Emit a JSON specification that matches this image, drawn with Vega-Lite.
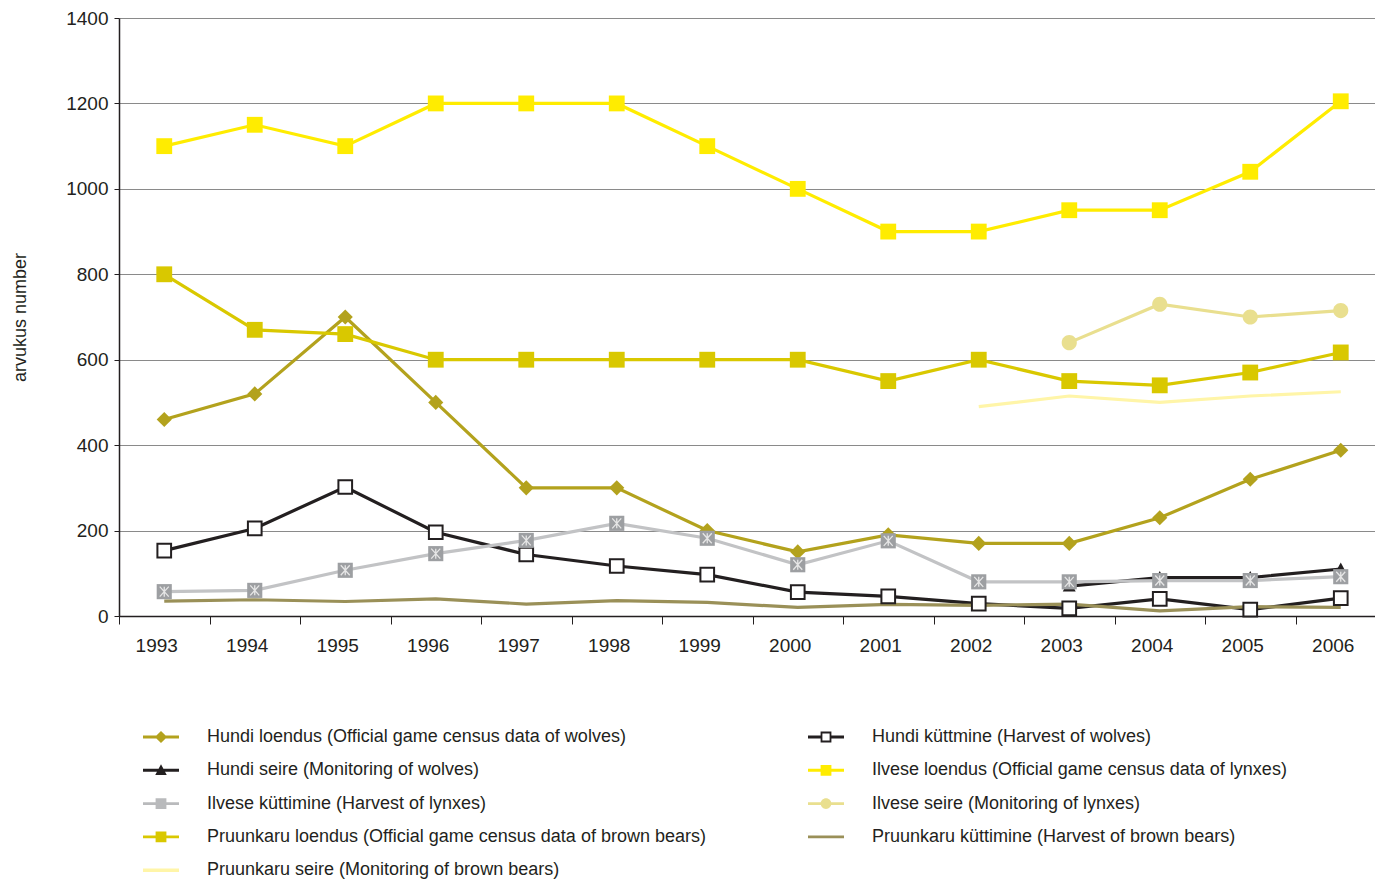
{
  "$schema": "https://vega.github.io/schema/vega-lite/v6.json",
  "autosize": {"type": "none"},
  "padding": {"left": 119, "top": 18, "right": 0, "bottom": 265},
  "width": 1267,
  "height": 598,
  "background": "white",
  "config": {
    "font": "Liberation Sans",
    "view": {"stroke": null}
  },
  "data": {
    "values": [
      {"year": 1993, "series": "Hundi loendus (Official game census data of wolves)", "value": 460},
      {"year": 1994, "series": "Hundi loendus (Official game census data of wolves)", "value": 520},
      {"year": 1995, "series": "Hundi loendus (Official game census data of wolves)", "value": 700},
      {"year": 1996, "series": "Hundi loendus (Official game census data of wolves)", "value": 500},
      {"year": 1997, "series": "Hundi loendus (Official game census data of wolves)", "value": 300},
      {"year": 1998, "series": "Hundi loendus (Official game census data of wolves)", "value": 300},
      {"year": 1999, "series": "Hundi loendus (Official game census data of wolves)", "value": 200},
      {"year": 2000, "series": "Hundi loendus (Official game census data of wolves)", "value": 150},
      {"year": 2001, "series": "Hundi loendus (Official game census data of wolves)", "value": 190},
      {"year": 2002, "series": "Hundi loendus (Official game census data of wolves)", "value": 170},
      {"year": 2003, "series": "Hundi loendus (Official game census data of wolves)", "value": 170},
      {"year": 2004, "series": "Hundi loendus (Official game census data of wolves)", "value": 230},
      {"year": 2005, "series": "Hundi loendus (Official game census data of wolves)", "value": 320},
      {"year": 2006, "series": "Hundi loendus (Official game census data of wolves)", "value": 388},

      {"year": 1993, "series": "Hundi küttmine (Harvest of wolves)", "value": 153},
      {"year": 1994, "series": "Hundi küttmine (Harvest of wolves)", "value": 205},
      {"year": 1995, "series": "Hundi küttmine (Harvest of wolves)", "value": 302},
      {"year": 1996, "series": "Hundi küttmine (Harvest of wolves)", "value": 196},
      {"year": 1997, "series": "Hundi küttmine (Harvest of wolves)", "value": 144},
      {"year": 1998, "series": "Hundi küttmine (Harvest of wolves)", "value": 117},
      {"year": 1999, "series": "Hundi küttmine (Harvest of wolves)", "value": 97},
      {"year": 2000, "series": "Hundi küttmine (Harvest of wolves)", "value": 56},
      {"year": 2001, "series": "Hundi küttmine (Harvest of wolves)", "value": 46},
      {"year": 2002, "series": "Hundi küttmine (Harvest of wolves)", "value": 29},
      {"year": 2003, "series": "Hundi küttmine (Harvest of wolves)", "value": 18},
      {"year": 2004, "series": "Hundi küttmine (Harvest of wolves)", "value": 40},
      {"year": 2005, "series": "Hundi küttmine (Harvest of wolves)", "value": 15},
      {"year": 2006, "series": "Hundi küttmine (Harvest of wolves)", "value": 42},

      {"year": 2003, "series": "Hundi seire (Monitoring of wolves)", "value": 70},
      {"year": 2004, "series": "Hundi seire (Monitoring of wolves)", "value": 90},
      {"year": 2005, "series": "Hundi seire (Monitoring of wolves)", "value": 90},
      {"year": 2006, "series": "Hundi seire (Monitoring of wolves)", "value": 110},

      {"year": 1993, "series": "Ilvese loendus (Official game census data of lynxes)", "value": 1100},
      {"year": 1994, "series": "Ilvese loendus (Official game census data of lynxes)", "value": 1150},
      {"year": 1995, "series": "Ilvese loendus (Official game census data of lynxes)", "value": 1100},
      {"year": 1996, "series": "Ilvese loendus (Official game census data of lynxes)", "value": 1200},
      {"year": 1997, "series": "Ilvese loendus (Official game census data of lynxes)", "value": 1200},
      {"year": 1998, "series": "Ilvese loendus (Official game census data of lynxes)", "value": 1200},
      {"year": 1999, "series": "Ilvese loendus (Official game census data of lynxes)", "value": 1100},
      {"year": 2000, "series": "Ilvese loendus (Official game census data of lynxes)", "value": 1000},
      {"year": 2001, "series": "Ilvese loendus (Official game census data of lynxes)", "value": 900},
      {"year": 2002, "series": "Ilvese loendus (Official game census data of lynxes)", "value": 900},
      {"year": 2003, "series": "Ilvese loendus (Official game census data of lynxes)", "value": 950},
      {"year": 2004, "series": "Ilvese loendus (Official game census data of lynxes)", "value": 950},
      {"year": 2005, "series": "Ilvese loendus (Official game census data of lynxes)", "value": 1040},
      {"year": 2006, "series": "Ilvese loendus (Official game census data of lynxes)", "value": 1205},

      {"year": 1993, "series": "Ilvese küttimine (Harvest of lynxes)", "value": 57},
      {"year": 1994, "series": "Ilvese küttimine (Harvest of lynxes)", "value": 60},
      {"year": 1995, "series": "Ilvese küttimine (Harvest of lynxes)", "value": 107},
      {"year": 1996, "series": "Ilvese küttimine (Harvest of lynxes)", "value": 146},
      {"year": 1997, "series": "Ilvese küttimine (Harvest of lynxes)", "value": 177},
      {"year": 1998, "series": "Ilvese küttimine (Harvest of lynxes)", "value": 217},
      {"year": 1999, "series": "Ilvese küttimine (Harvest of lynxes)", "value": 182},
      {"year": 2000, "series": "Ilvese küttimine (Harvest of lynxes)", "value": 120},
      {"year": 2001, "series": "Ilvese küttimine (Harvest of lynxes)", "value": 176},
      {"year": 2002, "series": "Ilvese küttimine (Harvest of lynxes)", "value": 80},
      {"year": 2003, "series": "Ilvese küttimine (Harvest of lynxes)", "value": 80},
      {"year": 2004, "series": "Ilvese küttimine (Harvest of lynxes)", "value": 83},
      {"year": 2005, "series": "Ilvese küttimine (Harvest of lynxes)", "value": 83},
      {"year": 2006, "series": "Ilvese küttimine (Harvest of lynxes)", "value": 92},

      {"year": 2003, "series": "Ilvese seire (Monitoring of lynxes)", "value": 640},
      {"year": 2004, "series": "Ilvese seire (Monitoring of lynxes)", "value": 730},
      {"year": 2005, "series": "Ilvese seire (Monitoring of lynxes)", "value": 700},
      {"year": 2006, "series": "Ilvese seire (Monitoring of lynxes)", "value": 715},

      {"year": 1993, "series": "Pruunkaru loendus (Official game census data of brown bears)", "value": 800},
      {"year": 1994, "series": "Pruunkaru loendus (Official game census data of brown bears)", "value": 670},
      {"year": 1995, "series": "Pruunkaru loendus (Official game census data of brown bears)", "value": 660},
      {"year": 1996, "series": "Pruunkaru loendus (Official game census data of brown bears)", "value": 600},
      {"year": 1997, "series": "Pruunkaru loendus (Official game census data of brown bears)", "value": 600},
      {"year": 1998, "series": "Pruunkaru loendus (Official game census data of brown bears)", "value": 600},
      {"year": 1999, "series": "Pruunkaru loendus (Official game census data of brown bears)", "value": 600},
      {"year": 2000, "series": "Pruunkaru loendus (Official game census data of brown bears)", "value": 600},
      {"year": 2001, "series": "Pruunkaru loendus (Official game census data of brown bears)", "value": 550},
      {"year": 2002, "series": "Pruunkaru loendus (Official game census data of brown bears)", "value": 600},
      {"year": 2003, "series": "Pruunkaru loendus (Official game census data of brown bears)", "value": 550},
      {"year": 2004, "series": "Pruunkaru loendus (Official game census data of brown bears)", "value": 540},
      {"year": 2005, "series": "Pruunkaru loendus (Official game census data of brown bears)", "value": 570},
      {"year": 2006, "series": "Pruunkaru loendus (Official game census data of brown bears)", "value": 617},

      {"year": 1993, "series": "Pruunkaru küttimine (Harvest of brown bears)", "value": 35},
      {"year": 1994, "series": "Pruunkaru küttimine (Harvest of brown bears)", "value": 38},
      {"year": 1995, "series": "Pruunkaru küttimine (Harvest of brown bears)", "value": 34},
      {"year": 1996, "series": "Pruunkaru küttimine (Harvest of brown bears)", "value": 40},
      {"year": 1997, "series": "Pruunkaru küttimine (Harvest of brown bears)", "value": 28},
      {"year": 1998, "series": "Pruunkaru küttimine (Harvest of brown bears)", "value": 36},
      {"year": 1999, "series": "Pruunkaru küttimine (Harvest of brown bears)", "value": 32},
      {"year": 2000, "series": "Pruunkaru küttimine (Harvest of brown bears)", "value": 20},
      {"year": 2001, "series": "Pruunkaru küttimine (Harvest of brown bears)", "value": 27},
      {"year": 2002, "series": "Pruunkaru küttimine (Harvest of brown bears)", "value": 25},
      {"year": 2003, "series": "Pruunkaru küttimine (Harvest of brown bears)", "value": 28},
      {"year": 2004, "series": "Pruunkaru küttimine (Harvest of brown bears)", "value": 12},
      {"year": 2005, "series": "Pruunkaru küttimine (Harvest of brown bears)", "value": 22},
      {"year": 2006, "series": "Pruunkaru küttimine (Harvest of brown bears)", "value": 20},

      {"year": 2002, "series": "Pruunkaru seire (Monitoring of brown bears)", "value": 490},
      {"year": 2003, "series": "Pruunkaru seire (Monitoring of brown bears)", "value": 515},
      {"year": 2004, "series": "Pruunkaru seire (Monitoring of brown bears)", "value": 500},
      {"year": 2005, "series": "Pruunkaru seire (Monitoring of brown bears)", "value": 515},
      {"year": 2006, "series": "Pruunkaru seire (Monitoring of brown bears)", "value": 525}
    ]
  },
  "encoding": {
    "x": {
      "field": "year",
      "type": "ordinal",
      "scale": {"type": "band", "paddingInner": 0, "paddingOuter": 0},
      "axis": {
        "title": null,
        "labelAngle": 0,
        "labelFontSize": 19,
        "labelColor": "#231f20",
        "labelPadding": 12,
        "labelOffset": -8,
        "tickBand": "extent",
        "tickSize": 8,
        "tickColor": "#231f20",
        "tickWidth": 1,
        "domainColor": "#231f20",
        "domainWidth": 1.5,
        "grid": false
      }
    },
    "y": {
      "field": "value",
      "type": "quantitative",
      "scale": {"domain": [0, 1400], "nice": false},
      "axis": {
        "title": "arvukus number",
        "titleFontSize": 18,
        "titleFontWeight": "normal",
        "titleColor": "#231f20",
        "titlePadding": 36,
        "format": "d",
        "values": [0, 200, 400, 600, 800, 1000, 1200, 1400],
        "labelFontSize": 19,
        "labelColor": "#231f20",
        "labelPadding": 6,
        "tickSize": 5,
        "tickColor": "#231f20",
        "domainColor": "#231f20",
        "domainWidth": 1.5,
        "grid": true,
        "gridColor": "#8a8a8a",
        "gridWidth": 1.2
      }
    }
  },
  "resolve": {"scale": {"fill": "independent", "shape": "independent"}},
  "layer": [
    {
      "mark": {"type": "line", "strokeWidth": 3.2},
      "encoding": {
        "stroke": {
          "field": "series",
          "type": "nominal",
          "sort": [
            "Hundi loendus (Official game census data of wolves)",
            "Hundi küttmine (Harvest of wolves)",
            "Hundi seire (Monitoring of wolves)",
            "Ilvese loendus (Official game census data of lynxes)",
            "Ilvese küttimine (Harvest of lynxes)",
            "Ilvese seire (Monitoring of lynxes)",
            "Pruunkaru loendus (Official game census data of brown bears)",
            "Pruunkaru küttimine (Harvest of brown bears)",
            "Pruunkaru seire (Monitoring of brown bears)"
          ],
          "scale": {
            "range": ["#b3a21d", "#231f20", "#231f20", "#ffec00", "#c2c3c5", "#e9df8f", "#d9c800", "#9a9058", "#fff5a8"]
          },
          "legend": null
        }
      }
    },
    {
      "transform": [
        {"filter": {"not": {"field": "series", "oneOf": ["Pruunkaru küttimine (Harvest of brown bears)", "Pruunkaru seire (Monitoring of brown bears)"]}}}
      ],
      "mark": {"type": "point", "filled": true, "opacity": 1, "size": 1296, "strokeWidth": 2},
      "encoding": {
        "fill": {
          "field": "series",
          "type": "nominal",
          "scale": {
            "domain": [
              "Hundi loendus (Official game census data of wolves)",
              "Hundi küttmine (Harvest of wolves)",
              "Hundi seire (Monitoring of wolves)",
              "Ilvese loendus (Official game census data of lynxes)",
              "Ilvese küttimine (Harvest of lynxes)",
              "Ilvese seire (Monitoring of lynxes)",
              "Pruunkaru loendus (Official game census data of brown bears)"
            ],
            "range": ["#b3a21d", "#ffffff", "#231f20", "#ffec00", "#9d9fa2", "#e9df8f", "#d9c800"]
          },
          "legend": null
        },
        "shape": {
          "field": "series",
          "type": "nominal",
          "scale": {
            "domain": [
              "Hundi loendus (Official game census data of wolves)",
              "Hundi küttmine (Harvest of wolves)",
              "Hundi seire (Monitoring of wolves)",
              "Ilvese loendus (Official game census data of lynxes)",
              "Ilvese küttimine (Harvest of lynxes)",
              "Ilvese seire (Monitoring of lynxes)",
              "Pruunkaru loendus (Official game census data of brown bears)"
            ],
            "range": [
              "M0,-0.42L0.42,0L0,0.42L-0.42,0Z",
              "M-0.38,-0.38H0.38V0.38H-0.38Z",
              "M0,-0.36L0.36,0.3L-0.36,0.3Z",
              "M-0.44,-0.44H0.44V0.44H-0.44Z",
              "M-0.42,-0.42H0.42V0.42H-0.42Z",
              "M0.42,0A0.42,0.42 0 1,1 -0.42,0A0.42,0.42 0 1,1 0.42,0Z",
              "M-0.44,-0.44H0.44V0.44H-0.44Z"
            ]
          },
          "legend": null
        },
        "stroke": {
          "condition": {"test": "datum.series === 'Hundi küttmine (Harvest of wolves)'", "value": "#231f20"},
          "value": "transparent"
        }
      }
    },
    {
      "transform": [
        {"filter": {"field": "series", "equal": "Ilvese küttimine (Harvest of lynxes)"}}
      ],
      "mark": {
        "type": "point",
        "filled": false,
        "opacity": 1,
        "size": 100,
        "stroke": "#e6e6e6",
        "strokeWidth": 1.3,
        "shape": "M-0.9,-1L0.9,1M0.9,-1L-0.9,1M0,-1L0,1"
      },
      "encoding": {}
    },
    {
      "transform": [{"filter": "false"}],
      "mark": {"type": "point", "filled": true, "opacity": 1, "size": 1296, "strokeWidth": 0},
      "encoding": {
        "fill": {
          "field": "series",
          "type": "nominal",
          "scale": {
            "domain": [
              "Hundi loendus (Official game census data of wolves)",
              "Hundi küttmine (Harvest of wolves)",
              "Hundi seire (Monitoring of wolves)",
              "Ilvese loendus (Official game census data of lynxes)",
              "Ilvese küttimine (Harvest of lynxes)",
              "Ilvese seire (Monitoring of lynxes)",
              "Pruunkaru loendus (Official game census data of brown bears)",
              "Pruunkaru küttimine (Harvest of brown bears)",
              "Pruunkaru seire (Monitoring of brown bears)"
            ],
            "range": ["#b3a21d", "#231f20", "#231f20", "#ffec00", "#b9babc", "#e9df8f", "#d9c800", "#9a9058", "#fff5a8"]
          },
          "legend": {
            "title": null,
            "orient": "none",
            "direction": "horizontal",
            "legendX": 24,
            "legendY": 701,
            "columns": 2,
            "columnPadding": 102,
            "rowPadding": 6.3,
            "symbolSize": 1296,
            "symbolStrokeWidth": 0,
            "labelOffset": 28,
            "labelFontSize": 18,
            "labelColor": "#231f20",
            "labelLimit": 800
          }
        },
        "shape": {
          "field": "series",
          "type": "nominal",
          "scale": {
            "domain": [
              "Hundi loendus (Official game census data of wolves)",
              "Hundi küttmine (Harvest of wolves)",
              "Hundi seire (Monitoring of wolves)",
              "Ilvese loendus (Official game census data of lynxes)",
              "Ilvese küttimine (Harvest of lynxes)",
              "Ilvese seire (Monitoring of lynxes)",
              "Pruunkaru loendus (Official game census data of brown bears)",
              "Pruunkaru küttimine (Harvest of brown bears)",
              "Pruunkaru seire (Monitoring of brown bears)"
            ],
            "range": [
              "M-1,-0.08H1V0.08H-1Z M0,-0.34L0.34,0L0,0.34L-0.34,0Z",
              "M-1,-0.08H-0.3V0.08H-1Z M0.3,-0.08H1V0.08H0.3Z M-0.3,-0.3H0.3V0.3H-0.3Z M-0.2,-0.2V0.2H0.2V-0.2Z",
              "M-1,-0.08H1V0.08H-1Z M0,-0.34L0.32,0.26L-0.32,0.26Z",
              "M-1,-0.08H1V0.08H-1Z M-0.3,-0.3H0.3V0.3H-0.3Z",
              "M-1,-0.08H1V0.08H-1Z M-0.3,-0.3H0.3V0.3H-0.3Z",
              "M-1,-0.08H1V0.08H-1Z M0.3,0A0.3,0.3 0 1,1 -0.3,0A0.3,0.3 0 1,1 0.3,0Z",
              "M-1,-0.08H1V0.08H-1Z M-0.3,-0.3H0.3V0.3H-0.3Z",
              "M-1,-0.08H1V0.08H-1Z",
              "M-1,-0.1H1V0.1H-1Z"
            ]
          }
        }
      }
    }
  ]
}
